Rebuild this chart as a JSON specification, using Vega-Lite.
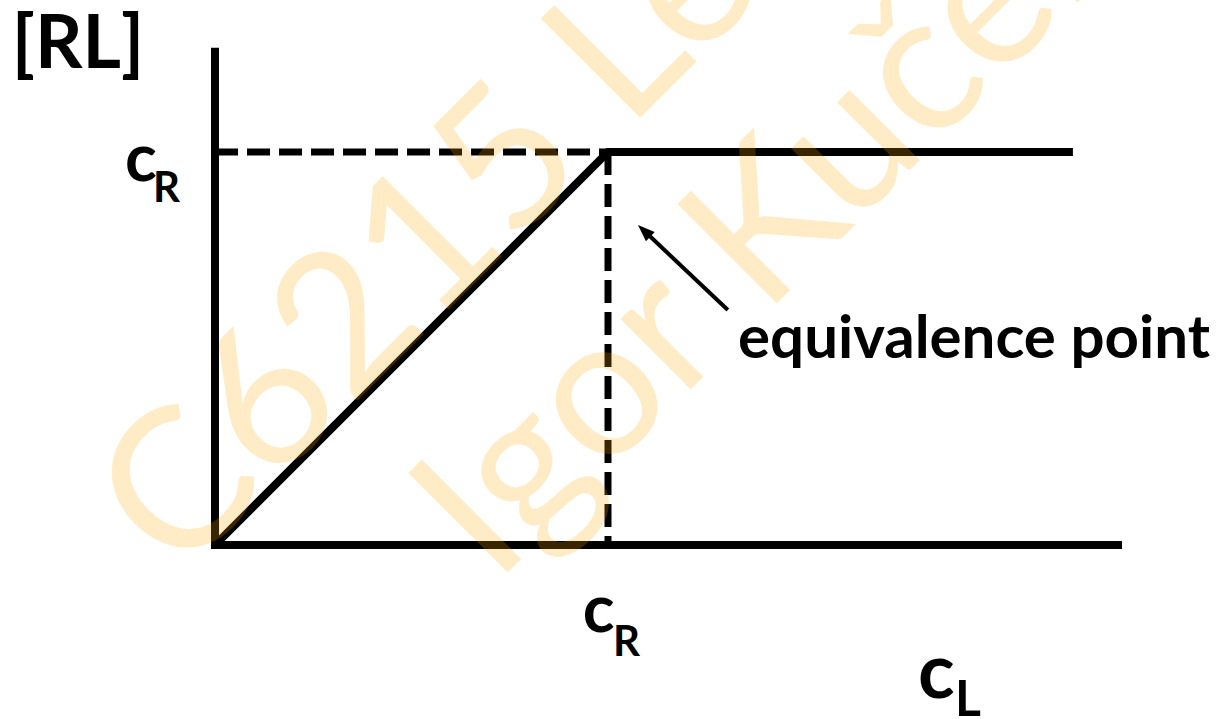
{
  "$schema": "https://vega.github.io/schema/vega-lite/v6.json",
  "autosize": "none",
  "width": 1218,
  "height": 719,
  "padding": 0,
  "background": "white",
  "config": {"view": {"stroke": null}},
  "datasets": {
    "rules": [
      {"kind": "axis", "x": 0, "y": -0.01, "x2": 0, "y2": 1.265},
      {"kind": "axis", "x": -0.01, "y": 0, "x2": 2.308, "y2": 0},
      {"kind": "dash", "x": 0, "y": 1, "x2": 1, "y2": 1},
      {"kind": "dash", "x": 1, "y": 1, "x2": 1, "y2": 0},
      {"kind": "arrow", "x": 1.305, "y": 0.598, "x2": 1.092, "y2": 0.7995}
    ],
    "curve": [
      {"x": 0, "y": 0},
      {"x": 1, "y": 1},
      {"x": 2.183, "y": 1}
    ],
    "heads": [
      {"x": 1.092, "y": 0.7995}
    ],
    "texts": [
      {"role": "title", "label": "[RL]", "x": -0.517, "y": 1.214},
      {"role": "c", "label": "c", "x": -0.229, "y": 0.926},
      {"role": "sub", "label": "R", "x": -0.158, "y": 0.873},
      {"role": "c", "label": "c", "x": 0.936, "y": -0.221},
      {"role": "sub", "label": "R", "x": 1.013, "y": -0.282},
      {"role": "cL", "label": "c", "x": 1.789, "y": -0.389},
      {"role": "subL", "label": "L", "x": 1.883, "y": -0.436},
      {"role": "label", "label": "equivalence point", "x": 1.331, "y": 0.476}
    ],
    "watermark": [
      {"label": "C6215 Lecture", "x": -0.0941, "y": -0.0891},
      {"label": "Igor Kučera", "x": 0.7125, "y": -0.1018}
    ]
  },
  "encoding": {
    "x": {"field": "x", "type": "quantitative", "scale": {"domain": [-0.5471, 2.5522], "nice": false, "zero": false}, "axis": null},
    "y": {"field": "y", "type": "quantitative", "scale": {"domain": [-0.4427, 1.3868], "nice": false, "zero": false}, "axis": null}
  },
  "layer": [
    {
      "data": {"name": "rules"},
      "transform": [{"filter": "datum.kind === 'axis'"}],
      "mark": {"type": "rule", "color": "black", "strokeWidth": 8, "strokeCap": "butt"},
      "encoding": {"x2": {"field": "x2"}, "y2": {"field": "y2"}}
    },
    {
      "data": {"name": "rules"},
      "transform": [{"filter": "datum.kind === 'dash'"}],
      "mark": {"type": "rule", "color": "black", "strokeWidth": 7, "strokeCap": "butt", "strokeDash": [23, 9]},
      "encoding": {"x2": {"field": "x2"}, "y2": {"field": "y2"}}
    },
    {
      "data": {"name": "curve"},
      "mark": {"type": "line", "color": "black", "strokeWidth": 8, "strokeJoin": "miter", "strokeCap": "butt"},
      "encoding": {}
    },
    {
      "data": {"name": "rules"},
      "transform": [{"filter": "datum.kind === 'arrow'"}],
      "mark": {"type": "rule", "color": "black", "strokeWidth": 4, "strokeCap": "butt"},
      "encoding": {"x2": {"field": "x2"}, "y2": {"field": "y2"}}
    },
    {
      "data": {"name": "heads"},
      "mark": {"type": "point", "shape": "M0,-1L-0.75,1L0.75,1Z", "filled": true, "color": "black", "opacity": 1, "size": 289, "angle": 313.4}
    },
    {
      "data": {"name": "texts"},
      "transform": [{"filter": "datum.role === 'title'"}],
      "mark": {"type": "text", "font": "Lato", "fontWeight": "bold", "fontSize": 74, "align": "left", "baseline": "alphabetic", "color": "black"},
      "encoding": {"text": {"field": "label"}}
    },
    {
      "data": {"name": "texts"},
      "transform": [{"filter": "datum.role === 'c'"}],
      "mark": {"type": "text", "font": "Lato", "fontWeight": "bold", "fontSize": 66, "align": "left", "baseline": "alphabetic", "color": "black"},
      "encoding": {"text": {"field": "label"}}
    },
    {
      "data": {"name": "texts"},
      "transform": [{"filter": "datum.role === 'sub'"}],
      "mark": {"type": "text", "font": "Lato", "fontWeight": "bold", "fontSize": 42, "align": "left", "baseline": "alphabetic", "color": "black"},
      "encoding": {"text": {"field": "label"}}
    },
    {
      "data": {"name": "texts"},
      "transform": [{"filter": "datum.role === 'cL'"}],
      "mark": {"type": "text", "font": "Lato", "fontWeight": "bold", "fontSize": 76, "align": "left", "baseline": "alphabetic", "color": "black"},
      "encoding": {"text": {"field": "label"}}
    },
    {
      "data": {"name": "texts"},
      "transform": [{"filter": "datum.role === 'subL'"}],
      "mark": {"type": "text", "font": "Lato", "fontWeight": "bold", "fontSize": 50, "align": "left", "baseline": "alphabetic", "color": "black"},
      "encoding": {"text": {"field": "label"}}
    },
    {
      "data": {"name": "texts"},
      "transform": [{"filter": "datum.role === 'label'"}],
      "mark": {"type": "text", "font": "Lato", "fontWeight": "bold", "fontSize": 60, "align": "left", "baseline": "alphabetic", "color": "black"},
      "encoding": {"text": {"field": "label"}}
    },
    {
      "data": {"name": "watermark"},
      "mark": {"type": "text", "font": "Lato", "fontWeight": "normal", "fontSize": 196, "align": "left", "baseline": "alphabetic", "angle": 315, "color": "#FFAA00", "opacity": 0.22},
      "encoding": {"text": {"field": "label"}}
    }
  ]
}
